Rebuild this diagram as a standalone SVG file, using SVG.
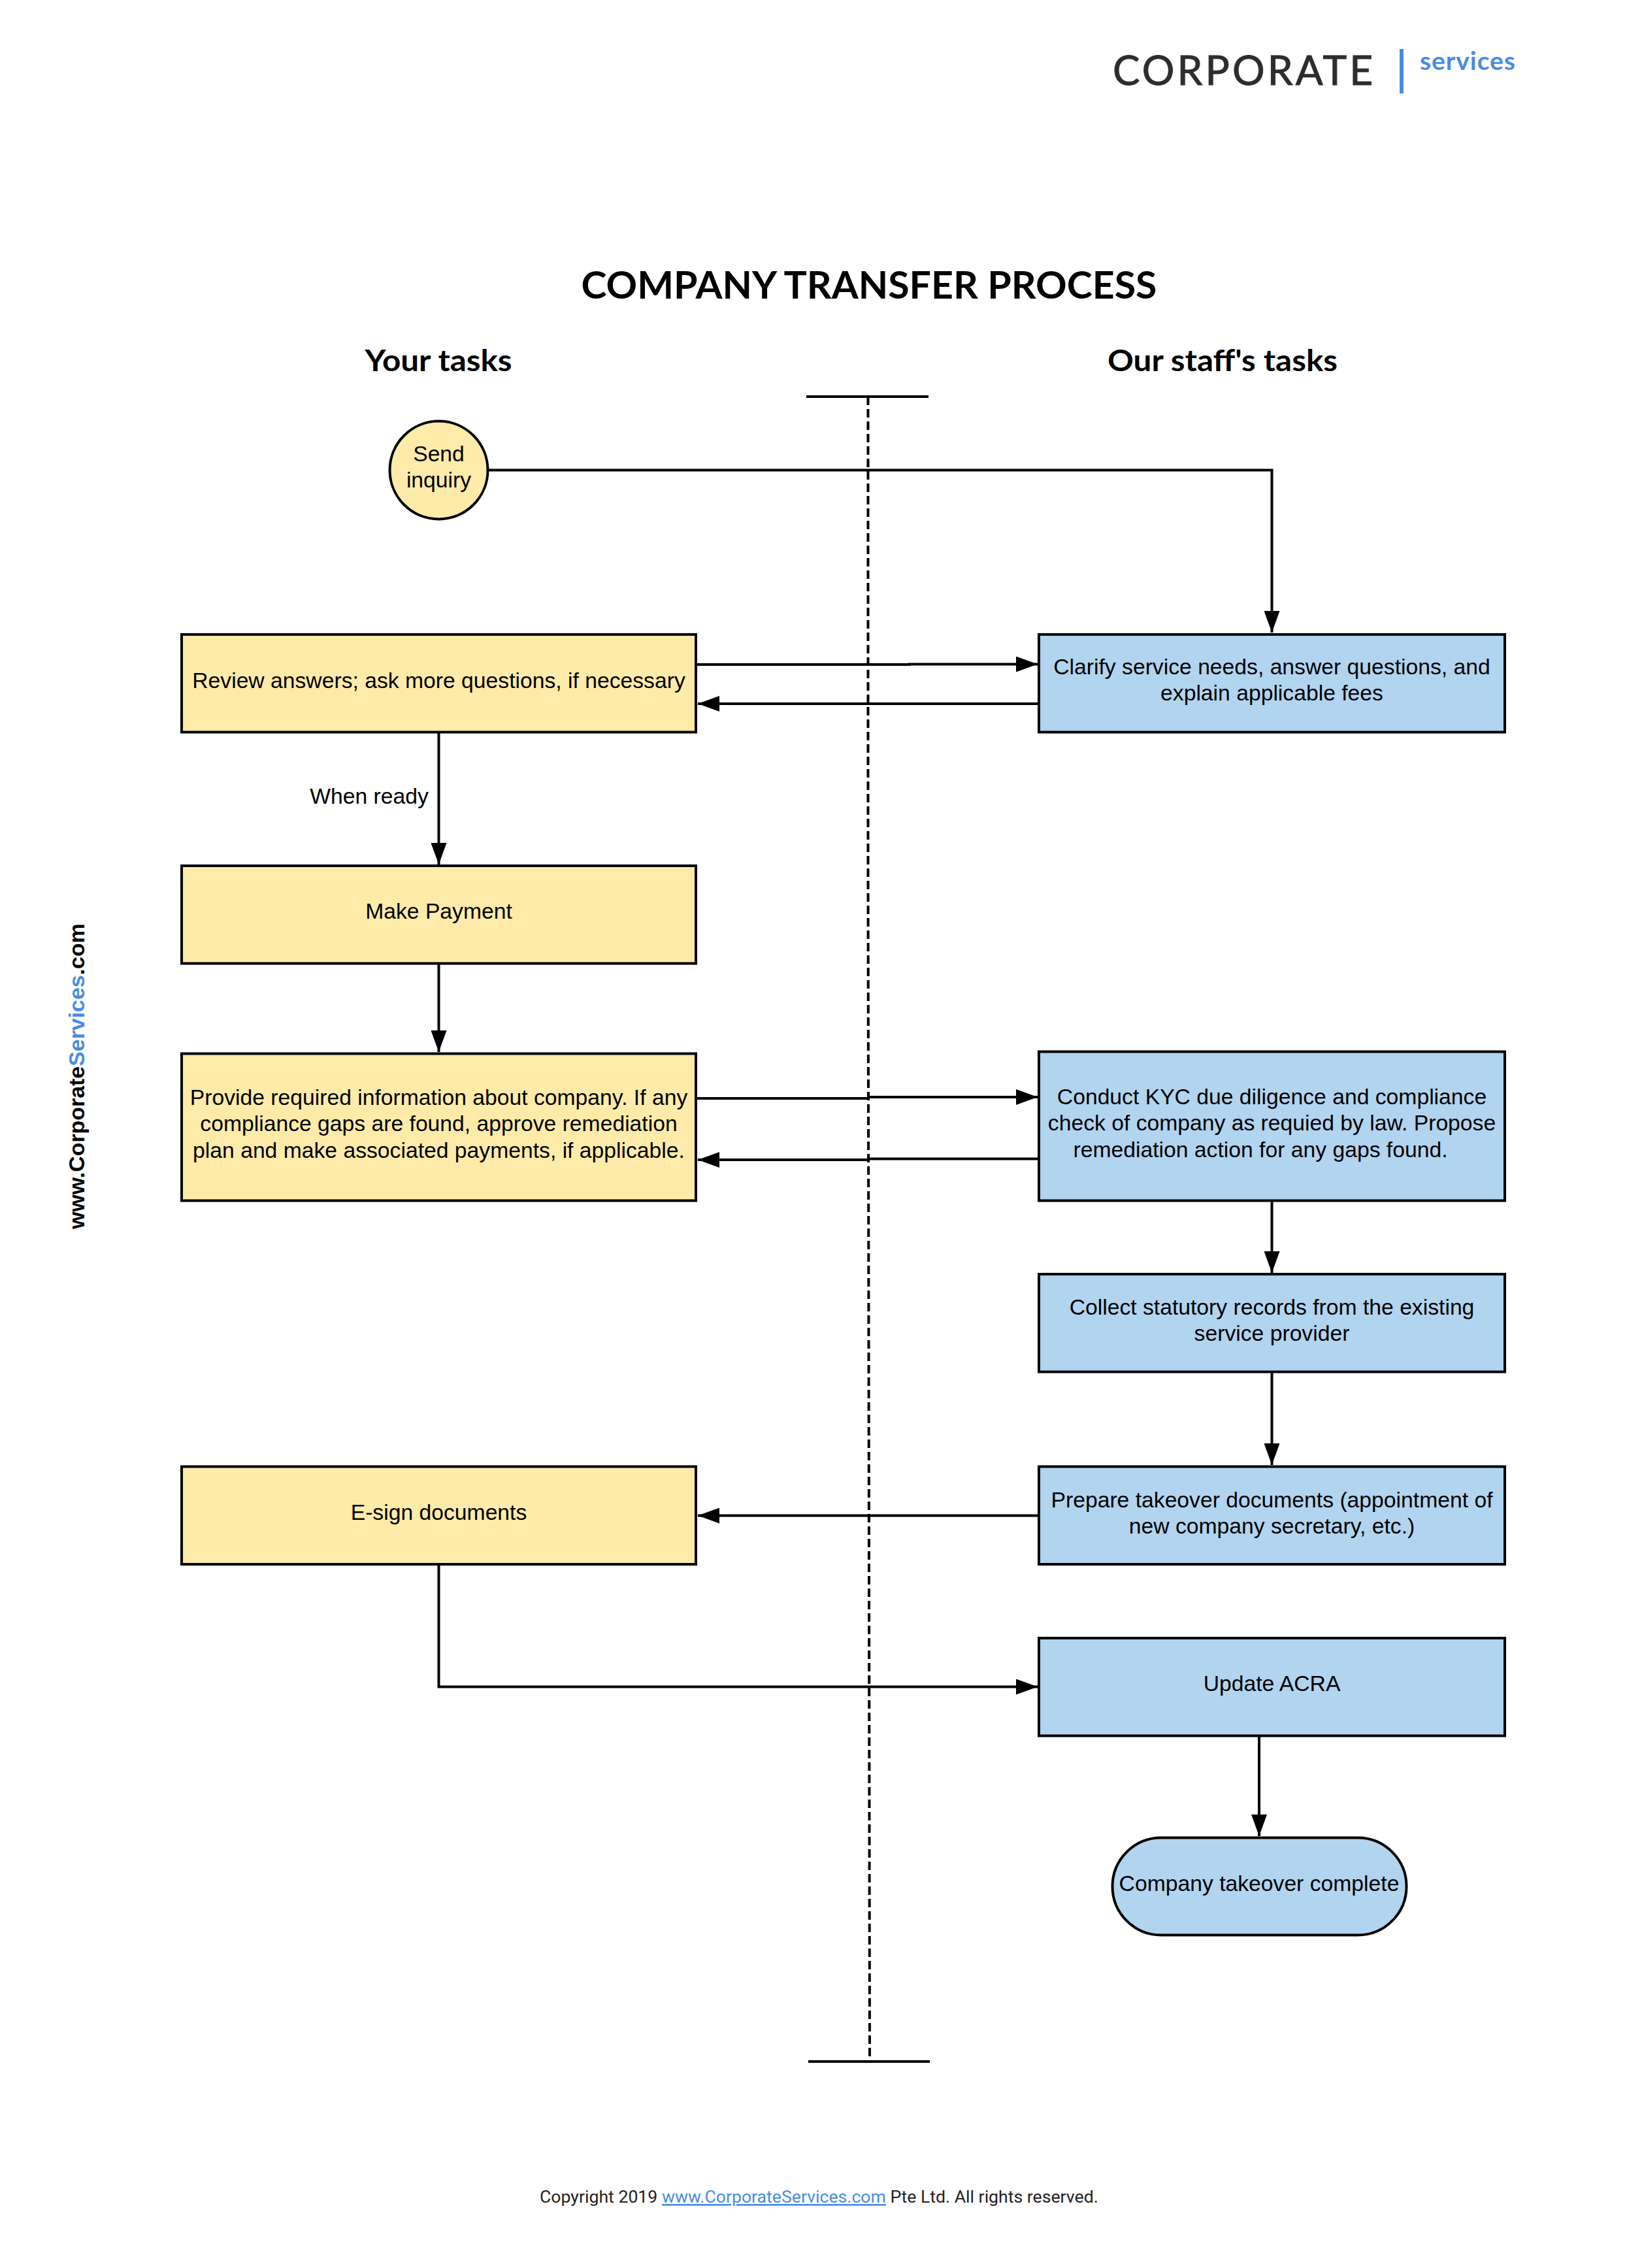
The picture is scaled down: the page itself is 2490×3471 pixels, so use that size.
<svg xmlns="http://www.w3.org/2000/svg" width="2490" height="3471" viewBox="0 0 2490 3471">
<style>
text{font-family:"Liberation Sans",Arial,sans-serif;fill:#000;text-anchor:middle}
.n{font-size:33.700px}
.y{fill:#FEEBA9;stroke:#000;stroke-width:4}
.b{fill:#B1D4EF;stroke:#000;stroke-width:4}
.c{fill:none;stroke:#000;stroke-width:4}
.h{font-family:Lato,"Open Sans",sans-serif;font-weight:700}
</style>
<defs><marker id="a" markerUnits="userSpaceOnUse" markerWidth="34" markerHeight="24" refX="33" refY="12" orient="auto"><path d="M0 0L33 12L0 24Z" fill="#000"/></marker></defs>
<rect width="2490" height="3471" fill="#fff"/>
<g id="logo">
<text class="h" x="1703" y="130" style="text-anchor:start;font-weight:400;fill:#2d2d2d;stroke:#2d2d2d;stroke-width:1" font-size="62" textLength="398" lengthAdjust="spacing">CORPORATE</text>
<rect x="2142" y="75" width="6" height="68" fill="#4A8BE3"/>
<text class="h" x="2173" y="107" style="text-anchor:start;fill:#4A8BE3" font-size="39" textLength="146" lengthAdjust="spacing">services</text>
</g>
<g id="titles">
<text class="h" x="1330" y="457" font-size="58" textLength="881" lengthAdjust="spacingAndGlyphs">COMPANY TRANSFER PROCESS</text>
<text class="h" x="671" y="568" font-size="46" textLength="225" lengthAdjust="spacingAndGlyphs">Your tasks</text>
<text class="h" x="1871" y="568" font-size="46" textLength="352" lengthAdjust="spacingAndGlyphs">Our staff's tasks</text>
</g>
<g id="connectors">
<path class="c" d="M1328.500 607V1328L1331 3155" stroke-dasharray="13 6"/>
<path class="c" d="M1234 607H1421M1237 3155H1423"/>
<path class="c" d="M747 719.500H1946.500V968" marker-end="url(#a)"/>
<path class="c" d="M1065 1017H1392V1016.500H1588" marker-end="url(#a)"/>
<path class="c" d="M1590 1077H1068" marker-end="url(#a)"/>
<path class="c" d="M671.500 1120V1323" marker-end="url(#a)"/>
<path class="c" d="M671.500 1474V1610" marker-end="url(#a)"/>
<path class="c" d="M1065 1681H1329V1679H1588" marker-end="url(#a)"/>
<path class="c" d="M1590 1773.500H1329V1775H1068" marker-end="url(#a)"/>
<path class="c" d="M1946.500 1837V1948" marker-end="url(#a)"/>
<path class="c" d="M1946.500 2099V2242" marker-end="url(#a)"/>
<path class="c" d="M1590 2319.500H1068" marker-end="url(#a)"/>
<path class="c" d="M671.500 2394V2581.500H1588" marker-end="url(#a)"/>
<path class="c" d="M1927 2656V2810" marker-end="url(#a)"/>
<text class="n" x="565" y="1230">When ready</text>
</g>
<g id="send-inquiry"><circle class="y" cx="671.500" cy="719.500" r="75"/><text class="n" x="671.500" y="706">Send</text><text class="n" x="671.500" y="746">inquiry</text></g>
<g id="review"><rect class="y" x="278" y="971" width="787" height="149.500"/><text class="n" x="671.500" y="1053">Review answers; ask more questions, if necessary</text></g>
<g id="payment"><rect class="y" x="278" y="1325" width="787" height="149.500"/><text class="n" x="671.500" y="1406">Make Payment</text></g>
<g id="provide"><rect class="y" x="278" y="1612.500" width="787" height="225"/><text class="n" x="671.500" y="1691">Provide required information about company. If any</text><text class="n" x="671.500" y="1731">compliance gaps are found, approve remediation</text><text class="n" x="671.500" y="1772">plan and make associated payments, if applicable.</text></g>
<g id="esign"><rect class="y" x="278" y="2244.500" width="787" height="149.500"/><text class="n" x="671.500" y="2326">E-sign documents</text></g>
<g id="clarify"><rect class="b" x="1590" y="971" width="713" height="149.500"/><text class="n" x="1946.500" y="1032">Clarify service needs, answer questions, and</text><text class="n" x="1946.500" y="1072">explain applicable fees</text></g>
<g id="kyc"><rect class="b" x="1590" y="1609.500" width="713" height="228"/><text class="n" x="1946.500" y="1690">Conduct KYC due diligence and compliance</text><text class="n" x="1946.500" y="1730">check of company as requied by law. Propose</text><text class="n" x="1929" y="1771">remediation action for any gaps found.</text></g>
<g id="collect"><rect class="b" x="1590" y="1950" width="713" height="149.500"/><text class="n" x="1946.500" y="2012">Collect statutory records from the existing</text><text class="n" x="1946.500" y="2052">service provider</text></g>
<g id="prepare"><rect class="b" x="1590" y="2244.500" width="713" height="149.500"/><text class="n" x="1946.500" y="2306.500">Prepare takeover documents (appointment of</text><text class="n" x="1946.500" y="2346.500">new company secretary, etc.)</text></g>
<g id="acra"><rect class="b" x="1590" y="2507" width="713" height="149.500"/><text class="n" x="1946.500" y="2588">Update ACRA</text></g>
<g id="complete"><rect class="b" x="1702.500" y="2812.500" width="450" height="149" rx="74.500"/><text class="n" x="1927" y="2894">Company takeover complete</text></g>
<g id="side"><text transform="translate(129 1881) rotate(-90)" style="text-anchor:start;font-weight:700" font-size="33.900"><tspan>www.Corporate</tspan><tspan style="fill:#4A8BE3">Services</tspan><tspan>.com</tspan></text></g>
<g id="copyright"><text x="826" y="3371" style="text-anchor:start;font-family:Roboto,sans-serif;fill:#222" font-size="26.650">Copyright 2019 <tspan style="fill:#4A8BE3" text-decoration="underline">www.CorporateServices.com</tspan> Pte Ltd. All rights reserved.</text></g>
</svg>
